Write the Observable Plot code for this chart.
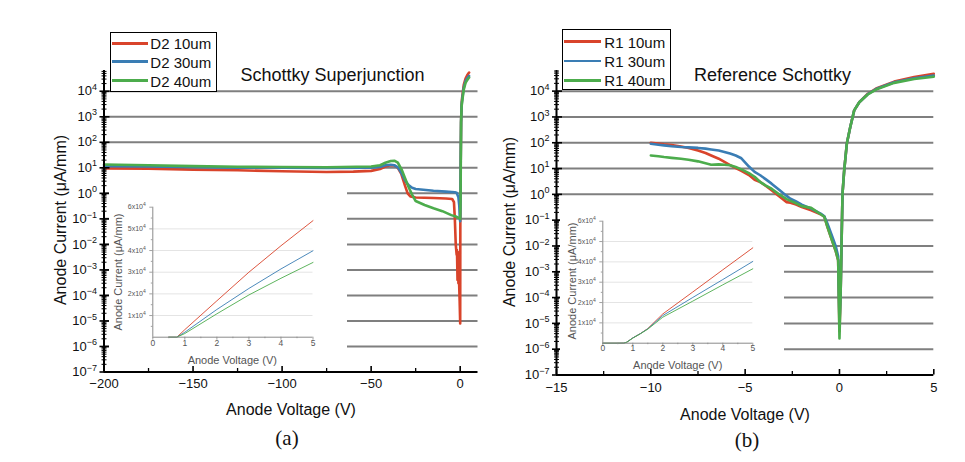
<!DOCTYPE html>
<html><head><meta charset="utf-8">
<script src="https://cdn.jsdelivr.net/npm/d3@7"></script>
<script src="https://cdn.jsdelivr.net/npm/@observablehq/plot@0.6"></script>
<style>
body{margin:0;background:#fff;}
#root{position:relative;width:965px;height:462px;overflow:hidden;background:#fff;font-family:"Liberation Sans",Arial,sans-serif;}
.box{position:absolute;}
.t{position:absolute;white-space:nowrap;line-height:1;transform:translate(-50%,-50%);color:#111;}
.legend{position:absolute;border:1.5px solid #000;background:#fff;box-sizing:border-box;}
.legend .sw{position:absolute;height:3px;margin-top:-1.5px;}
.legend .lt{position:absolute;font-size:15px;line-height:1;transform:translateY(-50%);white-space:nowrap;color:#111;}
</style></head><body><div id="root"></div>
<script>
const FONT = '"Liberation Sans", Arial, sans-serif';

// ---- series styling / labels ----
const seriesColors = ["#d9442b", "#3a7db4", "#4cac4c"];
const legendA = ["D2 10um", "D2 30um", "D2 40um"];
const legendB = ["R1 10um", "R1 30um", "R1 40um"];

// ---- axis ticks ----
const decadeExp = [-7, -6, -5, -4, -3, -2, -1, 0, 1, 2, 3, 4];
const decadeTicks = [1e-7, 1e-6, 1e-5, 1e-4, 1e-3, 1e-2, 1e-1, 1e0, 1e1, 1e2, 1e3, 1e4];
const aXTicks = [-200, -150, -100, -50, 0];
const aXMinor = [-175, -125, -75, -25];
const bXTicks = [-15, -10, -5, 0, 5];
const bXMinor = [-12.5, -7.5, -2.5, 2.5];
const insetXTicks = [0, 1, 2, 3, 4, 5];
const insetXMinor = [0.5, 1.5, 2.5, 3.5, 4.5];
const insetYTicks = [1e4, 2e4, 3e4, 4e4, 5e4, 6e4];
const insetYMantissa = ["1", "2", "3", "4", "5", "6"];
const insetYMinor = [5e3, 15e3, 25e3, 35e3, 45e3, 55e3];

// ---- Panel (a): Schottky Superjunction, log scale (µA/mm) ----
const aRedV = [-200,-175,-150,-125,-100,-75,-60,-50,-45,-42,-39,-37,-35,-33,-31,-29.5,-28,-25,-15,-8,-4.5,-3.5,-3,-2.5,-2,-1.8,-1.5,-1.3,-1.0,-0.8,-0.6,-0.3,0,0.1,0.3,0.5,0.75,1,2,3,4,5];
const aRedI = [9.5,9.3,8.5,8.0,7.3,6.9,7.1,7.6,9.0,11.2,12.6,12.3,10,5.6,2.0,1.0,0.76,0.69,0.66,0.63,0.60,0.45,0.1,0.01,4e-3,6e-3,4e-4,5e-3,3e-4,4e-3,3e-4,6e-5,8e-6,0.3,20,600,2500,5000,17800,31400,43300,53800];
const aBlueV = [-200,-175,-150,-125,-100,-75,-50,-45,-42,-39,-37,-35,-33,-31,-29,-27,-25,-15,-8,-3,-2,-1,-0.5,-0.2,0,0.1,0.3,0.5,0.75,1,2,3,4,5];
const aBlueI = [11.7,11.2,10.5,10,10,9.8,10,10.7,12.6,13.2,12.6,10.5,6.3,3.2,2.1,1.66,1.48,1.26,1.17,1.1,1.05,0.7,0.32,0.1,0.08,0.3,20,600,2400,4000,13900,24700,32500,39900];
const aGreenV = [-200,-175,-150,-125,-100,-75,-50,-45,-42,-39,-37,-35,-33,-31,-29,-27,-25,-20,-15,-10,-5,-2,-0.5,0,0.2,0.35,0.5,0.75,1,2,3,4,5];
const aGreenI = [13.5,12.6,11.7,11,10.7,10.5,11.2,12.6,15.8,18.6,19,15.8,8.9,4.0,1.78,0.89,0.5,0.35,0.26,0.2,0.14,0.12,0.107,0.1,0.5,20,600,2300,3500,11600,21300,27800,34500];

// ---- Panel (b): Reference Schottky ----
const bV = [-10,-9.6,-9.3,-8.9,-8.4,-8.0,-7.5,-7.1,-6.8,-6.4,-6.1,-5.8,-5.5,-5.2,-4.8,-4.5,-4.2,-3.9,-3.6,-3.2,-2.8,-2.6,-2.3,-2.0,-1.5,-1.0,-0.8,-0.64,-0.37,-0.19,-0.07,0,0.06,0.16,0.25,0.39,0.57,0.78,1.05,1.5,1.94,2.9,3.96,5];
const bRedI = [100,93,87,81,72,63,50,40,32,24,18,13.5,10.5,8.1,5.6,3.7,3.0,2.1,1.45,0.85,0.50,0.47,0.40,0.32,0.24,0.17,0.135,0.055,0.0145,0.006,0.0028,5e-6,1.4e-4,1.05,8.5,93,400,1800,3700,7900,12600,23400,35500,46800];
const bBlueI = [91,84,79,73,68,66,63,59,55,50,44,38,32,25,12,7.4,5.5,3.8,2.6,1.5,0.87,0.68,0.53,0.40,0.28,0.18,0.14,0.074,0.022,0.0093,0.004,1e-5,1.4e-4,1.05,8.5,93,400,1800,3700,7600,12000,21900,31600,40000];
const bGreenI = [32,30,28,26,24,22,19,16,14,14.5,14,13.5,11.5,9.3,6.6,4.8,3.0,2.2,1.66,1.0,0.65,0.56,0.45,0.35,0.30,0.17,0.135,0.055,0.0145,0.006,0.0028,2.6e-6,1.4e-4,1.05,8.5,93,400,1800,3700,7400,11500,20900,29500,36300];

// ---- Insets: linear forward I-V ----
const insAV = [0.5, 0.75, 1, 2, 3, 4, 5];
const insARed = [0, 0, 3500, 16800, 30000, 42200, 53800];
const insABlue = [0, 0, 2300, 12800, 22500, 31500, 39900];
const insAGreen = [0, 0, 1700, 10800, 19500, 27200, 34500];
const insBV = [0, 0.5, 0.7, 0.8, 1.0, 1.25, 1.5, 2, 3, 4, 5];
const insBRed = [0, 0, 50, 500, 2600, 4700, 7200, 14400, 25200, 36100, 46900];
const insBBlue = [0, 0, 50, 500, 2600, 4700, 7100, 13600, 22500, 31300, 40200];
const insBGreen = [0, 0, 50, 500, 2500, 4600, 6900, 12800, 20700, 28700, 36600];

// ---- helpers ----
const rows = (V, I) => V.map((v, i) => ({V: v, I: I[i]}));
const minus = d => d < 0 ? "\u2212" + (-d) : String(d);
const yMinor = [];
decadeExp.forEach(e => { for (let m = 2; m <= 9; m++) yMinor.push(m * Math.pow(10, e)); });

const root = document.getElementById("root");
function place(el, x, y) { const d = document.createElement("div"); d.className = "box"; d.style.left = x + "px"; d.style.top = y + "px"; d.appendChild(el); root.appendChild(d); }
function addText(txt, x, y, size, opts = {}) {
  const d = document.createElement("div"); d.className = "t"; d.textContent = txt;
  d.style.left = x + "px"; d.style.top = y + "px"; d.style.fontSize = size + "px";
  if (opts.family) d.style.fontFamily = opts.family;
  if (opts.color) d.style.color = opts.color;
  if (opts.rotate) d.style.transform = "translate(-50%,-50%) rotate(" + opts.rotate + "deg)";
  root.appendChild(d);
}
function addLegend(labels, x, y, w, h, rowY, swL, swR, textL, widths) {
  const d = document.createElement("div"); d.className = "legend";
  d.style.left = x + "px"; d.style.top = y + "px"; d.style.width = w + "px"; d.style.height = h + "px";
  labels.forEach((lab, i) => {
    const s = document.createElement("div"); s.className = "sw";
    s.style.left = swL + "px"; s.style.width = (swR - swL) + "px"; s.style.top = rowY[i] + "px";
    s.style.height = widths[i] + "px"; s.style.marginTop = (-widths[i] / 2) + "px";
    s.style.background = seriesColors[i]; d.appendChild(s);
    const t = document.createElement("div"); t.className = "lt"; t.textContent = lab;
    t.style.left = textL + "px"; t.style.top = rowY[i] + "px"; d.appendChild(t);
  });
  root.appendChild(d);
}
function addSup(svg, test, supFn, dy, size) {
  let k = 0;
  d3.select(svg).selectAll("text").each(function () {
    if (test(this.textContent)) {
      d3.select(this).append("tspan").attr("dy", dy).attr("font-size", size).text(supFn(k));
      k++;
    }
  });
}

function mainPanel(c) {
  const fw = c.width - c.mL - c.mR, fh = c.height - c.mT - c.mB;
  const svg = Plot.plot({
    width: c.width, height: c.height, marginLeft: c.mL, marginRight: c.mR, marginTop: c.mT, marginBottom: c.mB,
    x: {domain: c.xDomain, axis: null},
    y: {type: "log", domain: c.yDomain, axis: null},
    style: {fontFamily: FONT, background: "transparent", overflow: "visible"},
    marks: [
      Plot.ruleY(decadeTicks.slice(1), {y: d => d, stroke: "#7f7f7f", strokeWidth: 2}),
      ...c.series.map((s, i) => Plot.line(s, {x: "V", y: "I", stroke: seriesColors[i], strokeWidth: 2.6, strokeLinejoin: "round"})),
      Plot.ruleX([c.xDomain[0]], {x: d => d, stroke: "#000", strokeWidth: 2}),
      Plot.ruleY([c.yDomain[0]], {y: d => d, stroke: "#000", strokeWidth: 2}),
      Plot.tickY(yMinor.filter(d => d < c.yDomain[1]), {y: d => d, insetLeft: -2, insetRight: fw - 3, stroke: "#000", strokeWidth: 1}),
      Plot.tickY(decadeTicks, {y: d => d, insetLeft: -4, insetRight: fw - 6, stroke: "#000", strokeWidth: 1.6}),
      Plot.tickX(c.xMinor, {x: d => d, insetTop: fh - 3.5, stroke: "#000", strokeWidth: 1.3}),
      Plot.tickX(c.xTicks, {x: d => d, insetTop: fh - 5.5, stroke: "#000", strokeWidth: 1.6}),
      Plot.text(c.xTicks, {x: d => d, frameAnchor: "bottom", dy: c.xDy, text: d => minus(d), fontSize: 13, fill: "#111"}),
      Plot.text(decadeTicks, {y: d => d, frameAnchor: "left", dx: -7, textAnchor: "end", text: () => "10", fontSize: 13, fill: "#111"})
    ]
  });
  addSup(svg, t => t === "10", k => minus(decadeExp[k]), -5.5, 9);
  return svg;
}

function insetPanel(c) {
  const fw = c.width - c.mL - c.mR, fh = c.height - c.mT - c.mB;
  const svg = Plot.plot({
    width: c.width, height: c.height, marginLeft: c.mL, marginRight: c.mR, marginTop: c.mT, marginBottom: c.mB,
    x: {domain: [0, 5], axis: null},
    y: {domain: [0, 6e4], axis: null},
    style: {fontFamily: FONT, background: "white", overflow: "visible"},
    marks: [
      Plot.ruleY(insetYTicks.slice(0, 5), {y: d => d, stroke: "#e4e4e4", strokeWidth: 1}),
      ...c.series.map((s, i) => Plot.line(s, {x: "V", y: "I", stroke: seriesColors[i], strokeWidth: 1, strokeOpacity: 0.9})),
      Plot.ruleX([0], {x: d => d, stroke: "#8a8a8a", strokeWidth: 1}),
      Plot.ruleY([0], {y: d => d, stroke: "#8a8a8a", strokeWidth: 1}),
      Plot.tickY(insetYMinor, {y: d => d, insetLeft: -1.5, insetRight: fw, stroke: "#8a8a8a", strokeWidth: 0.8}),
      Plot.tickY(insetYTicks, {y: d => d, insetLeft: -3, insetRight: fw, stroke: "#8a8a8a", strokeWidth: 0.8}),
      Plot.tickX(insetXMinor, {x: d => d, insetTop: fh, insetBottom: -1.5, stroke: "#8a8a8a", strokeWidth: 0.8}),
      Plot.tickX(insetXTicks, {x: d => d, insetTop: fh, insetBottom: -3, stroke: "#8a8a8a", strokeWidth: 0.8}),
      Plot.text(insetXTicks, {x: d => d, frameAnchor: "bottom", dy: c.xDy, text: d => String(d), fontSize: 8.5, fill: "#555"}),
      Plot.text(insetYTicks, {y: d => d, frameAnchor: "left", dx: -7, textAnchor: "end", text: (d, i) => insetYMantissa[i] + "x10", fontSize: 7, fill: "#555"})
    ]
  });
  addSup(svg, t => /x10$/.test(t), () => "4", -3, 5);
  return svg;
}

// ---- build panels ----
place(mainPanel({
  width: 482, height: 400, mL: 103.5, mR: 4.5, mT: 70, mB: 28.5, xDy: 16,
  xDomain: [-200, 10], yDomain: [1e-7, 6.5e4], xTicks: aXTicks, xMinor: aXMinor,
  series: [rows(aRedV, aRedI), rows(aBlueV, aBlueI), rows(aGreenV, aGreenI)]
}), 0, 0);
place(mainPanel({
  width: 485, height: 404, mL: 76, mR: 31.7, mT: 70, mB: 29.5, xDy: 17,
  xDomain: [-15, 5], yDomain: [1e-7, 6.3e4], xTicks: bXTicks, xMinor: bXMinor,
  series: [rows(bV, bRedI), rows(bV, bBlueI), rows(bV, bGreenI)]
}), 480, 0);
place(insetPanel({
  width: 238, height: 186, mL: 43.3, mR: 34.5, mT: 26.7, mB: 29.3, xDy: 8.5,
  series: [rows(insAV, insARed), rows(insAV, insABlue), rows(insAV, insAGreen)]
}), 109, 180);
place(insetPanel({
  width: 224, height: 164, mL: 42.3, mR: 31.7, mT: 15.7, mB: 26.3, xDy: 7.5,
  series: [rows(insBV, insBRed), rows(insBV, insBBlue), rows(insBV, insBGreen)]
}), 560, 205);

// ---- text overlays ----
addText("Anode Current (\u03bcA/mm)", 61, 220, 16, {rotate: -90});
addText("Anode Voltage (V)", 291, 410, 16);
addText("(a)", 287, 438, 21, {family: '"Liberation Serif", "Times New Roman", serif'});
addText("Schottky Superjunction", 332.5, 75, 18);
addText("Anode Current (\u03bcA/mm)", 118.3, 271.7, 11, {rotate: -90, color: "#555"});
addText("Anode Voltage (V)", 232.3, 360, 11, {color: "#555"});

addText("Anode Current (\u03bcA/mm)", 510, 222, 16, {rotate: -90});
addText("Anode Voltage (V)", 745, 415, 16);
addText("(b)", 747, 440, 21, {family: '"Liberation Serif", "Times New Roman", serif'});
addText("Reference Schottky", 772.5, 75, 18);
addText("Anode Current (\u03bcA/mm)", 571.7, 281, 11, {rotate: -90, color: "#555"});
addText("Anode Voltage (V)", 677.7, 365, 11, {color: "#555"});

addLegend(legendA, 109.5, 32, 107, 60, [10.3, 28.7, 47.7], 1.2, 37.8, 39.8, [3, 3, 2.5]);
addLegend(legendB, 561.5, 29, 109, 61, [11.7, 31, 50.3], 1.2, 38.5, 41.8, [3.5, 2.2, 3]);
</script>
</body></html>
